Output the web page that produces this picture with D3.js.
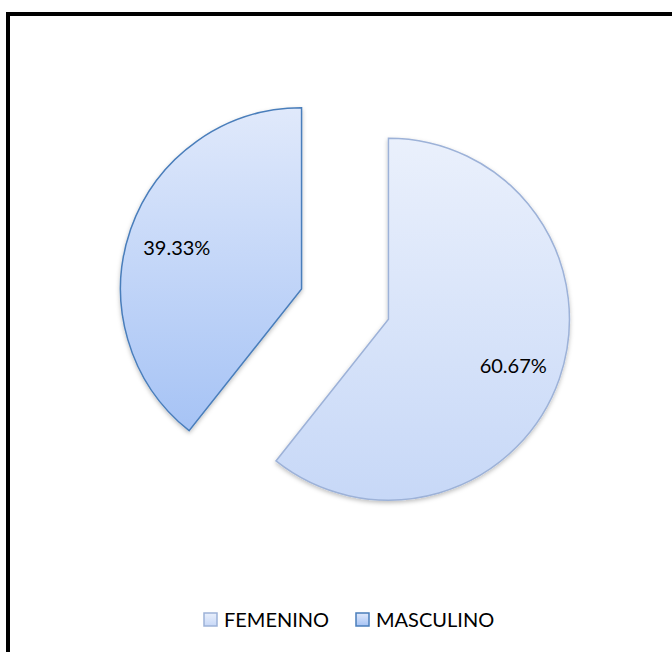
<!DOCTYPE html>
<html>
<head>
<meta charset="utf-8">
<style>
  body { margin: 0; background: #fff; }
  svg { display: block; }
  text { font-family: Lato, "Open Sans", sans-serif; }
</style>
</head>
<body>
<script src="https://cdnjs.cloudflare.com/ajax/libs/d3/7.8.5/d3.min.js"></script>
<script>
// Data
let categories = ["FEMENINO", "MASCULINO"];
let values = [60.67, 39.33];
let labels = ["60.67%", "39.33%"];

// Styles per slice
let gradTop = ["#eaf0fc", "#e0e9fb"];
let gradBottom = ["#c7d8f7", "#a6c3f5"];
let strokes = ["#9db2d8", "#4a7ebb"];

let width = 672, height = 652;
let cx = 345, cy = 304, radius = 181, explode = 46;

let svg = d3.select("body")
  .append("svg")
  .attr("width", width)
  .attr("height", height);

let defs = svg.append("defs");

categories.forEach((c, i) => {
  let g = defs.append("linearGradient")
    .attr("id", "grad" + i)
    .attr("x1", 0).attr("y1", 0)
    .attr("x2", 0).attr("y2", 1);
  g.append("stop").attr("offset", "0%").attr("stop-color", gradTop[i]);
  g.append("stop").attr("offset", "100%").attr("stop-color", gradBottom[i]);
});

let shadow = defs.append("filter")
  .attr("id", "shadow")
  .attr("x", "-10%").attr("y", "-10%")
  .attr("width", "130%").attr("height", "130%");
shadow.append("feDropShadow")
  .attr("dx", 0).attr("dy", 2)
  .attr("stdDeviation", 2)
  .attr("flood-color", "#000")
  .attr("flood-opacity", 0.25);

// Chart frame
svg.append("rect")
  .attr("x", 8).attr("y", 14)
  .attr("width", 700).attr("height", 700)
  .attr("fill", "none")
  .attr("stroke", "#000")
  .attr("stroke-width", 4);

let pie = d3.pie().sort(null).value((d) => d.value);
let arcs = pie(categories.map((c, i) => ({ name: c, value: values[i], label: labels[i], i: i })));

let arc = d3.arc().innerRadius(0).outerRadius(radius);
let labelArc = d3.arc().innerRadius(radius * 0.73).outerRadius(radius * 0.73);

let slice = svg.selectAll("g.slice")
  .data(arcs)
  .enter()
  .append("g")
  .attr("class", "slice")
  .attr("transform", (d) => {
    let a = (d.startAngle + d.endAngle) / 2;
    return `translate(${cx + explode * Math.sin(a)}, ${cy - explode * Math.cos(a)})`;
  });

slice.append("path")
  .attr("d", arc)
  .attr("fill", (d) => `url(#grad${d.data.i})`)
  .attr("stroke", (d) => strokes[d.data.i])
  .attr("stroke-width", 1.5)
  .attr("filter", "url(#shadow)");

slice.append("text")
  .attr("transform", (d) => `translate(${labelArc.centroid(d)})`)
  .attr("text-anchor", "middle")
  .attr("dy", "0.5em")
  .style("font-size", "20px")
  .style("fill", "#000")
  .text((d) => d.data.label);

// Legend
let legendX = [204, 356];
let legend = svg.selectAll("g.legend")
  .data(categories)
  .enter()
  .append("g")
  .attr("class", "legend")
  .attr("transform", (d, i) => `translate(${legendX[i]}, 613)`);

legend.append("rect")
  .attr("width", 13).attr("height", 13)
  .attr("fill", (d, i) => `url(#grad${i})`)
  .attr("stroke", (d, i) => strokes[i])
  .attr("stroke-width", 1.5);

legend.append("text")
  .attr("x", 20)
  .attr("y", 6.5)
  .attr("dy", "0.36em")
  .style("font-size", "20px")
  .style("fill", "#000")
  .text((d) => d);
</script>
</body>
</html>
